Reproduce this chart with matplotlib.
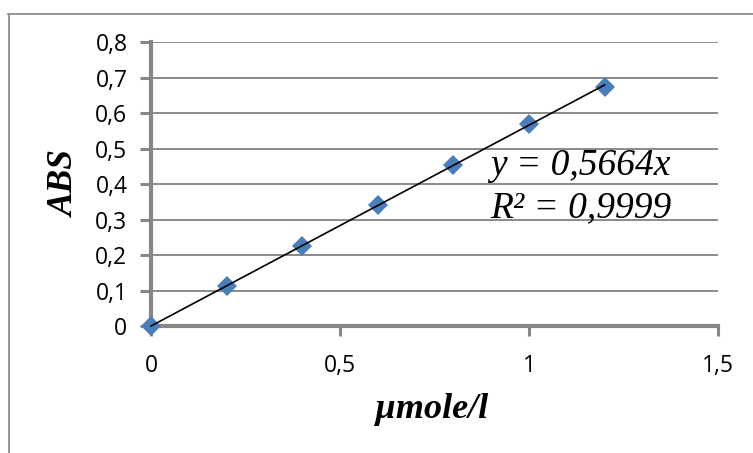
import matplotlib
matplotlib.use("Agg")
import matplotlib.pyplot as plt
from matplotlib.lines import Line2D
from matplotlib.ticker import FixedLocator, FuncFormatter

# Calibration data
concentration = [0.0, 0.2, 0.4, 0.6, 0.8, 1.0, 1.2]
absorbance = [0.0, 0.113, 0.226, 0.341, 0.455, 0.569, 0.674]
slope = 0.5664
r_squared = "0,9999"
x_ticks = [0, 0.5, 1.0, 1.5]
y_ticks = [0, 0.1, 0.2, 0.3, 0.4, 0.5, 0.6, 0.7, 0.8]

W, H = 753, 453
fig = plt.figure(figsize=(W / 100, H / 100), dpi=100)

def fx(px):
    return px / W

def fy(py):
    return 1 - py / H

left, right, top, bottom = 151, 718, 42.3, 326
ax = fig.add_axes([fx(left), fy(bottom), fx(right - left), (bottom - top) / H])

axis_gray = "#878787"
grid_gray = "#8a8a8a"
marker_blue = "#4a7ebb"

ax.set_xlim(0, 1.5)
ax.set_ylim(0, 0.8)

# Trend line through the origin
fit_x = [concentration[0], concentration[-1]]
fit_y = [slope * v for v in fit_x]
ax.plot(fit_x, fit_y, color="black", lw=1.2, zorder=5, clip_on=False)

ax.plot(concentration, absorbance, linestyle="none", marker="D", ms=10.5,
        color=marker_blue, markeredgewidth=0, zorder=4, clip_on=False)

def comma(v, pos):
    s = ("%.1f" % v).rstrip("0").rstrip(".")
    return s.replace(".", ",")

ax.xaxis.set_major_locator(FixedLocator(x_ticks))
ax.yaxis.set_major_locator(FixedLocator(y_ticks))
ax.xaxis.set_major_formatter(FuncFormatter(comma))
ax.yaxis.set_major_formatter(FuncFormatter(comma))

ax.grid(axis="y", color=grid_gray, lw=1.4)
ax.set_axisbelow(True)

for side in ("top", "right"):
    ax.spines[side].set_visible(False)
for side in ("left", "bottom"):
    ax.spines[side].set_color(axis_gray)
    ax.spines[side].set_linewidth(3.0)
    ax.spines[side].set_zorder(3)

ax.tick_params(axis="y", direction="out", length=8, width=2.2, color=axis_gray,
               pad=9, labelsize=16.5)
ax.tick_params(axis="x", direction="out", length=7.5, width=2.2, color=axis_gray,
               pad=13, labelsize=16.5)
for lab in ax.get_xticklabels() + ax.get_yticklabels():
    lab.set_fontfamily("Open Sans")

serif = "Liberation Serif"
fig.text(fx(65), fy(184), "ABS", rotation=90, ha="center", va="center",
         family=serif, style="italic", weight="bold", fontsize=25.5)
fig.text(fx(432), fy(418), "\u00b5mole/l", ha="center", va="baseline",
         family=serif, style="italic", weight="bold", fontsize=26)

fig.text(fx(490), fy(175), "y = 0,5664x", ha="left", va="baseline",
         family=serif, style="italic", fontsize=27)
fig.text(fx(490), fy(217), "R\u00b2 = " + r_squared, ha="left", va="baseline",
         family=serif, style="italic", fontsize=27)

# Chart frame
frame_kw = dict(color="#8c8c8c", lw=1.3, transform=fig.transFigure)
fig.add_artist(Line2D([fx(8), fx(753)], [fy(13.5), fy(13.5)], **frame_kw))
fig.add_artist(Line2D([fx(8.5), fx(8.5)], [fy(13.5), fy(453)], **frame_kw))

fig.savefig("out.png", dpi=100, facecolor="white")
